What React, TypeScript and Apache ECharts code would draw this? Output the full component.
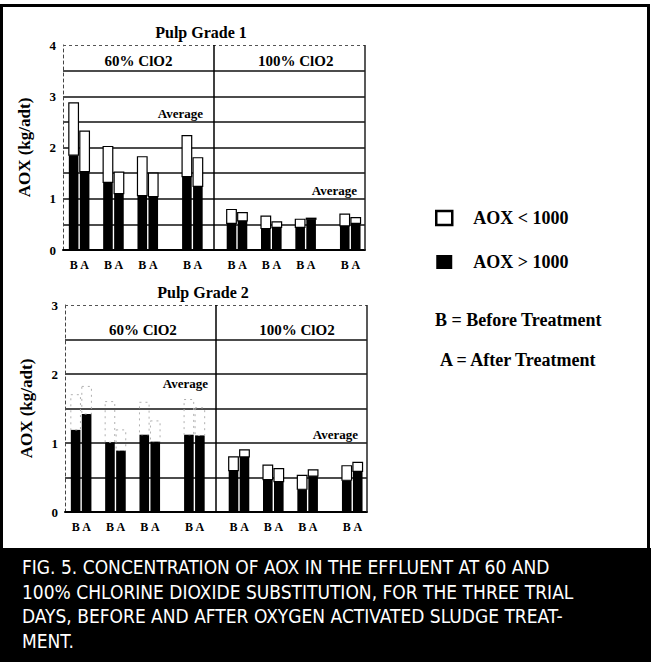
import React, { useEffect, useRef } from "react";
import * as echarts from "echarts";

// ---------- data ----------
const periods = ["Day 1", "Day 2", "Day 3", "Average"];
const sections = ["60% ClO2", "100% ClO2"];
const treatments = ["B", "A"];
const gradeTitles = ["Pulp Grade 1", "Pulp Grade 2"];
const yMaxByGrade = [4, 3];
const averageLabel = "Average";
const yAxisName = "AOX (kg/adt)";
const legendNames = ["AOX < 1000", "AOX > 1000"];
const notes = ["B = Before Treatment", "A = After Treatment"];
const caption =
  "FIG. 5. CONCENTRATION OF AOX IN THE EFFLUENT AT 60 AND\n100% CHLORINE DIOXIDE SUBSTITUTION, FOR THE THREE TRIAL\nDAYS, BEFORE AND AFTER OXYGEN ACTIVATED SLUDGE TREAT-\nMENT.";

// Pulp Grade 1  (gt = AOX > 1000 part, lt = AOX < 1000 part), per period
const g1_60_B_gt = [1.85, 1.32, 1.06, 1.43];
const g1_60_B_lt = [1.02, 0.7, 0.76, 0.8];
const g1_60_A_gt = [1.53, 1.1, 1.04, 1.24];
const g1_60_A_lt = [0.79, 0.42, 0.46, 0.56];
const g1_100_B_gt = [0.52, 0.42, 0.44, 0.47];
const g1_100_B_lt = [0.27, 0.24, 0.16, 0.23];
const g1_100_A_gt = [0.57, 0.44, 0.6, 0.52];
const g1_100_A_lt = [0.16, 0.11, 0.02, 0.11];

// Pulp Grade 2
const g2_60_B_gt = [1.19, 1.01, 1.12, 1.12];
const g2_60_B_lt = [0.51, 0.59, 0.47, 0.51];
const g2_60_A_gt = [1.42, 0.89, 1.02, 1.11];
const g2_60_A_lt = [0.4, 0.3, 0.3, 0.4];
const g2_100_B_gt = [0.6, 0.47, 0.33, 0.46];
const g2_100_B_lt = [0.2, 0.21, 0.2, 0.21];
const g2_100_A_gt = [0.8, 0.44, 0.52, 0.59];
const g2_100_A_lt = [0.1, 0.19, 0.09, 0.13];

const grades = [
  [
    [[g1_60_B_gt, g1_60_B_lt], [g1_60_A_gt, g1_60_A_lt]],
    [[g1_100_B_gt, g1_100_B_lt], [g1_100_A_gt, g1_100_A_lt]],
  ],
  [
    [[g2_60_B_gt, g2_60_B_lt], [g2_60_A_gt, g2_60_A_lt]],
    [[g2_100_B_gt, g2_100_B_lt], [g2_100_A_gt, g2_100_A_lt]],
  ],
];

// ---------- layout ----------
const SERIF = "'Liberation Serif', 'Times New Roman', serif";
const SANS = "'Liberation Sans Narrow', 'DejaVu Sans Condensed', 'Liberation Sans', sans-serif";
const X_MAX = 8.8;
const SECTION_W = 4.4;
const sectionPad = [0.47, 0.67];
const AVG_GAP = 0.3;
const BAR_OFF = 0.16;
const BAR_W = 0.28;
const grids = [
  { left: 63, top: 45, width: 302, height: 205 },
  { left: 65, top: 305, width: 302, height: 207 },
];

const groupX = (s: number, k: number) =>
  s * SECTION_W + sectionPad[s] + k + (k === periods.length - 1 ? AVG_GAP : 0);

function buildOption() {
  const series: any[] = [];
  const xAxis: any[] = [];
  const yAxis: any[] = [];
  const graphic: any[] = [];

  graphic.push({
    type: "rect",
    shape: { x: 1.5, y: 5.5, width: 647, height: 545 },
    style: { fill: "none", stroke: "#000", lineWidth: 3 },
    silent: true,
  });
  graphic.push({
    type: "rect",
    shape: { x: 0, y: 548, width: 651, height: 114 },
    style: { fill: "#000" },
    silent: true,
  });
  graphic.push({
    type: "text",
    x: 22,
    y: 555,
    style: {
      text: caption,
      fill: "#fff",
      font: `19px ${SANS}`,
      lineHeight: 24.5,
    },
    silent: true,
  });
  notes.forEach((t, i) => {
    graphic.push({
      type: "text",
      x: i === 0 ? 435 : 440,
      y: i === 0 ? 320 : 360,
      style: {
        text: t,
        fill: "#000",
        font: `bold 18px ${SERIF}`,
        verticalAlign: "middle",
      },
    });
  });

  grades.forEach((grade, g) => {
    graphic.push({
      type: "text",
      x: g === 0 ? 201 : 203,
      y: g === 0 ? 32 : 292,
      style: {
        text: gradeTitles[g],
        fill: "#000",
        font: `bold 16px ${SERIF}`,
        align: "center",
        verticalAlign: "middle",
      },
    });

    xAxis.push({
      gridIndex: g,
      type: "value",
      min: 0,
      max: X_MAX,
      axisLine: { show: true, lineStyle: { color: "#000", width: 2 } },
      axisTick: { show: false },
      axisLabel: { show: false },
      splitLine: { show: false },
    });
    yAxis.push({
      gridIndex: g,
      type: "value",
      min: 0,
      max: yMaxByGrade[g],
      interval: 0.5,
      name: yAxisName,
      nameLocation: "middle",
      nameRotate: 90,
      nameGap: 30,
      nameTextStyle: { fontFamily: SERIF, fontWeight: "bold", fontSize: 17, color: "#000" },
      axisLine: { show: true, lineStyle: { color: "#444", width: 1, type: [3, 3] } },
      axisTick: { show: false },
      axisLabel: {
        margin: 7,
        color: "#000",
        fontFamily: SERIF,
        fontWeight: "bold",
        fontSize: 13,
        formatter: (v: number) => (Number.isInteger(v) ? String(v) : ""),
      },
      splitLine: {
        show: true,
        showMaxLine: false,
        lineStyle: { color: "#111", width: 1.5 },
      },
    });

    const gtData: any[] = [];
    const ltData: any[] = [];
    const labelData: any[] = [];
    grade.forEach((sec, s) => {
      sec.forEach((tr, t) => {
        const [gt, lt] = tr;
        periods.forEach((_, k) => {
          const x = groupX(s, k) + (t === 0 ? -BAR_OFF : BAR_OFF);
          const faint = g === 1 && s === 0 ? 1 : 0;
          gtData.push([x, 0, gt[k], faint]);
          ltData.push([x, gt[k], gt[k] + lt[k], faint]);
          labelData.push([x, t]);
        });
      });
    });

    const barRender = (black: boolean) => (params: any, api: any) => {
      const x = api.value(0);
      const lo = api.value(1);
      const hi = api.value(2);
      const faint = api.value(3);
      const p0 = api.coord([x - BAR_W / 2, lo]);
      const p1 = api.coord([x + BAR_W / 2, hi]);
      let style: any;
      if (black) style = { fill: "#000" };
      else if (faint) style = { fill: "none", stroke: "#b0b0b0", lineWidth: 1, lineDash: [2, 4] };
      else style = { fill: "#fff", stroke: "#000", lineWidth: 1.2 };
      return {
        type: "rect",
        shape: { x: p0[0], y: p1[1], width: p1[0] - p0[0], height: p0[1] - p1[1] },
        style,
      };
    };

    series.push({
      type: "custom",
      name: legendNames[1],
      xAxisIndex: g,
      yAxisIndex: g,
      data: gtData,
      encode: { x: 0, y: 2 },
      renderItem: barRender(true),
      itemStyle: { color: "#000" },
      z: 3,
    });
    series.push({
      type: "custom",
      name: legendNames[0],
      xAxisIndex: g,
      yAxisIndex: g,
      data: ltData,
      encode: { x: 0, y: 2 },
      renderItem: barRender(false),
      itemStyle: { color: "#fff", borderColor: "#000", borderWidth: 2 },
      z: 3,
    });
    series.push({
      type: "custom",
      xAxisIndex: g,
      yAxisIndex: g,
      data: labelData,
      encode: { x: 0, y: 1 },
      silent: true,
      renderItem: (params: any, api: any) => {
        const p = api.coord([api.value(0), 0]);
        return {
          type: "text",
          x: p[0],
          y: p[1] + 9,
          style: {
            text: treatments[api.value(1)],
            fill: "#000",
            font: `bold 12px ${SERIF}`,
            align: "center",
            verticalAlign: "top",
          },
        };
      },
    });

    // annotations: section titles and "Average" markers
    const yM = yMaxByGrade[g];
    const ann =
      g === 0
        ? [
            [2.2, 3.5, 0, "center", "bottom"],
            [6.78, 3.5, 1, "center", "bottom"],
            [4.08, 2.5, 2, "right", "bottom"],
            [8.57, 1.0, 2, "right", "bottom"],
          ]
        : [
            [2.27, 2.5, 0, "center", "bottom"],
            [6.76, 2.5, 1, "center", "bottom"],
            [4.17, 2.0, 2, "right", "top"],
            [8.54, 1.0, 2, "right", "bottom"],
          ];
    const annTexts = [sections[0], sections[1], averageLabel];
    series.push({
      type: "custom",
      xAxisIndex: g,
      yAxisIndex: g,
      data: ann.map((a) => [a[0], a[1], a[2]]),
      encode: { x: 0, y: 1 },
      silent: true,
      renderItem: (params: any, api: any) => {
        const a = ann[params.dataIndex];
        const p = api.coord([api.value(0), api.value(1)]);
        const idx = api.value(2);
        const isAvg = idx === 2;
        return {
          type: "text",
          x: p[0],
          y: p[1] + (a[4] === "bottom" ? -2 : 3),
          style: {
            text: annTexts[idx],
            fill: "#000",
            font: `bold ${isAvg ? 13 : 15}px ${SERIF}`,
            align: a[3],
            verticalAlign: a[4],
          },
        };
      },
    });

    // frame lines: dashed top, section divider, right border
    series.push({
      type: "line",
      xAxisIndex: g,
      yAxisIndex: g,
      data: [],
      silent: true,
      markLine: {
        symbol: "none",
        silent: true,
        label: { show: false },
        data: [
          { yAxis: yM, lineStyle: { color: "#555", width: 1, type: [3, 3] } },
          { xAxis: SECTION_W, lineStyle: { color: "#000", width: 1.5, type: "solid" } },
          { xAxis: X_MAX, lineStyle: { color: "#222", width: 1.5, type: "solid" } },
        ],
      },
    });
  });

  return {
    animation: false,
    backgroundColor: "#fff",
    grid: grids,
    xAxis,
    yAxis,
    legend: {
      orient: "vertical",
      left: 430,
      top: 204,
      itemWidth: 16,
      itemHeight: 14,
      itemGap: 26,
      icon: "rect",
      data: [
        { name: legendNames[0], itemStyle: { color: "#fff", borderColor: "#000", borderWidth: 2.5 } },
        { name: legendNames[1], itemStyle: { color: "#000", borderColor: "#000", borderWidth: 0 } },
      ],
      textStyle: {
        fontFamily: SERIF,
        fontWeight: "bold",
        fontSize: 18,
        color: "#000",
        padding: [0, 0, 0, 16],
      },
      selectedMode: false,
    },
    graphic,
    series,
  };
}

export default function App() {
  const ref = useRef<HTMLDivElement>(null);
  useEffect(() => {
    if (!ref.current) return;
    const chart = echarts.init(ref.current, undefined, { renderer: "svg" });
    chart.setOption(buildOption() as any);
    return () => chart.dispose();
  }, []);
  return (
    <div
      ref={ref}
      style={{ position: "fixed", left: 0, top: 0, width: 651, height: 662, background: "#fff" }}
    />
  );
}
